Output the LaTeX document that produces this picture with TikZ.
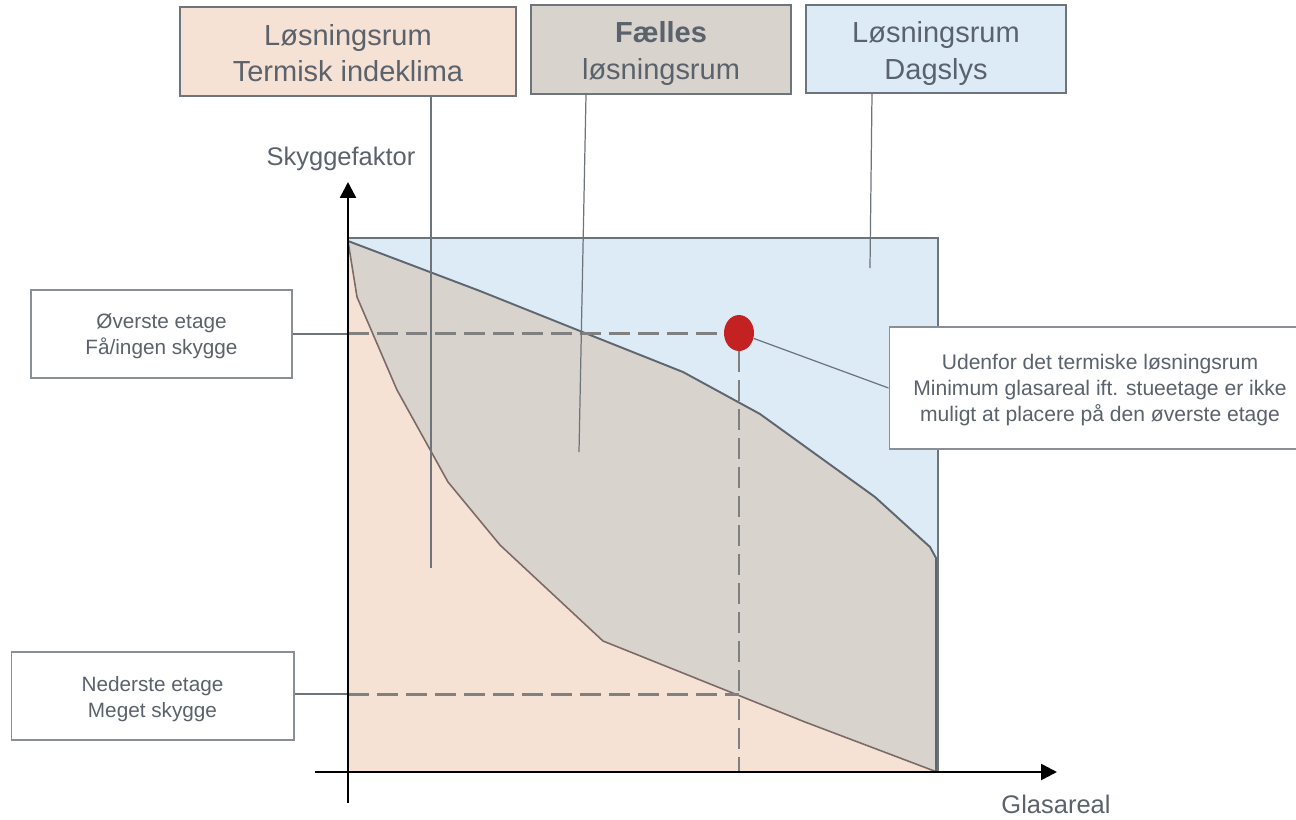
\documentclass[tikz,border=0pt]{standalone}
\usepackage{fontspec}
\setmainfont{Liberation Sans}
\usetikzlibrary{arrows.meta,shapes.geometric}
\definecolor{txt}{HTML}{5A626C}
\definecolor{edge}{HTML}{6E747C}
\definecolor{thinedge}{HTML}{8A8F96}
\definecolor{peach}{HTML}{F6E1D5}
\definecolor{greyfill}{HTML}{D9D3CE}
\definecolor{bluefill}{HTML}{DDEBF7}
\definecolor{dotred}{HTML}{C42222}
\definecolor{dashgrey}{HTML}{808080}
\definecolor{lowline}{HTML}{7A6B66}
\definecolor{upline}{HTML}{5E6670}
\begin{document}
\begin{tikzpicture}[x=0.02cm,y=-0.02cm,
  topbox/.style={draw=edge, line width=1.1pt, inner sep=0pt},
  toptext/.style={text=txt, align=center, inner sep=0pt, font=\fontsize{16.5}{20.5}\selectfont},
  sidebox/.style={draw=thinedge, line width=0.6pt, fill=white, inner sep=0pt},
  sidetext/.style={text=txt, align=center, inner sep=0pt, font=\fontsize{11.8}{14.8}\selectfont},
  leader/.style={draw=edge, line width=0.7pt},
  dashline/.style={draw=dashgrey, line width=1.7pt, dash pattern=on 12pt off 4.5pt},
  axisline/.style={draw=black, line width=1.4pt, -{Triangle[length=9pt,width=9pt]}},
  axlabel/.style={text=txt, font=\fontsize{14.5}{17}\selectfont, inner sep=0pt, anchor=base}
]
\useasboundingbox (0,0) rectangle (1296,819);
\clip (0,0) rectangle (1296,819);

% plot regions
\fill[bluefill] (348,238) rectangle (938,772);
\fill[greyfill] (348,241) -- (480,291) -- (580,331) -- (683,372) -- (760,414) -- (875,497)
  -- (930,547) -- (936,558) -- (936,772) -- (805,722) -- (603,641) -- (500,545) -- (448,482)
  -- (397,390) -- (357,297) -- cycle;
\fill[peach] (348,241) -- (357,297) -- (397,390) -- (448,482) -- (500,545) -- (603,641)
  -- (805,722) -- (937,772) -- (348,772) -- cycle;
\draw[lowline, line width=0.9pt] (348,241) -- (357,297) -- (397,390) -- (448,482) -- (500,545)
  -- (603,641) -- (805,722) -- (937,772);
\draw[lowline, line width=0.9pt] (348,241) -- (348,772);
\draw[upline, line width=1.1pt] (348,241) -- (480,291) -- (580,331) -- (683,372) -- (760,414)
  -- (875,497) -- (930,547) -- (936,558) -- (936,772);
\draw[edge, line width=1.1pt] (348,238) rectangle (938,772);

% key coordinates
\coordinate (origin) at (348,772);
\coordinate (lowy) at (0,694);

% red point
\node[ellipse, fill=dotred, minimum width=0.6cm, minimum height=0.72cm, inner sep=0pt] (dot) at (739,333) {};

% side boxes
\node[sidebox, minimum width=5.22cm, minimum height=1.76cm] (topleft) at (161.5,334) {};
\node[sidetext] (topleftt) at (161.5,336.5) {Øverste etage\\Få/ingen skygge};
\node[sidebox, minimum width=5.66cm, minimum height=1.76cm] (lowleft) at (152.5,696) {};
\node[sidetext] (lowleftt) at (152.5,699) {Nederste etage\\Meget skygge};
\node[sidebox, minimum width=8.44cm, minimum height=2.44cm] (rbox) at (1100,388) {};
\node[text=txt, align=center, inner sep=0pt, font=\fontsize{12}{14.7}\selectfont] (rtext) at (1100,390)
  {Udenfor det termiske løsningsrum\\Minimum glasareal ift. stueetage er ikke\\muligt at placere på den øverste etage};

% dashed guides
\draw[dashline] (origin |- dot) -- (dot.west);
\draw[dashline] (dot.south) -- (dot |- origin);
\draw[dashline] (origin |- lowy) -- (dot |- lowy);

% side leaders
\draw[leader] (topleft.east) -- (origin |- topleft);
\draw[leader] (lowleft.east |- lowy) -- (origin |- lowy);
\draw[leader] (rbox.west) -- (dot);

% axes
\draw[axisline] (348,803) -- (348,182);
\draw[axisline] (315,772) -- (1057,772);
\node[axlabel] (ylab) at (341,165) {Skyggefaktor};
\node[axlabel] (xlab) at (1056,813) {Glasareal};

% top boxes
\node[topbox, fill=peach, minimum width=6.72cm, minimum height=1.78cm] (box1) at (348,51.5) {};
\node[toptext] (box1t) at (348,53) {Løsningsrum\\Termisk indeklima};
\node[topbox, fill=greyfill, minimum width=5.2cm, minimum height=1.78cm] (box2) at (661,49.5) {};
\node[toptext] (box2t) at (661,53.5) {\textbf{Fælles}\\løsningsrum};
\node[topbox, fill=bluefill, minimum width=5.2cm, minimum height=1.76cm] (box3) at (936,49) {};
\node[toptext] (box3t) at (936,53.5) {Løsningsrum\\Dagslys};

% top leaders
\coordinate (l1) at (431,568);
\coordinate (l2x) at (586,0);
\coordinate (l2) at (579,452);
\coordinate (l3x) at (872,0);
\coordinate (l3) at (870,268);
\draw[leader] (box1.south -| l1) -- (l1);
\draw[leader] (box2.south -| l2x) -- (l2);
\draw[leader] (box3.south -| l3x) -- (l3);
\end{tikzpicture}
\end{document}
